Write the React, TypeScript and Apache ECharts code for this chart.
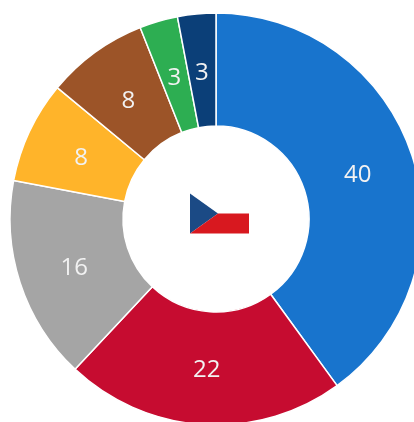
import React, { useEffect, useRef } from "react";
import * as echarts from "echarts";

const seats = [40, 22, 16, 8, 8, 3, 3];
const colors = ["#1874CD", "#C60C30", "#A5A5A5", "#FFB42A", "#9C5428", "#2DAE52", "#0B3F78"];

echarts.graphic.registerShape("flagBlue", echarts.graphic.extendPath("M0 0L28 20L0 40Z", {}));
echarts.graphic.registerShape("flagRed", echarts.graphic.extendPath("M0 40L28 20L59 20L59 40Z", {}));

export default function App() {
  const ref = useRef<HTMLDivElement>(null);
  useEffect(() => {
    const chart = echarts.init(ref.current!, null, { renderer: "svg" });
    const center = [216, 219];
    chart.setOption({
      animation: false,
      series: [
        {
          type: "pie",
          center,
          radius: [93, 206],
          startAngle: 90,
          data: seats.map((value, i) => ({ value, itemStyle: { color: colors[i] } })),
          itemStyle: { borderColor: "#ffffff", borderWidth: 1.5 },
          label: { show: false },
          labelLine: { show: false },
          silent: true,
        },
        {
          type: "pie",
          center,
          radius: [93, 199],
          startAngle: 90,
          data: seats.map((value) => ({ value })),
          itemStyle: { color: "transparent" },
          label: { show: true, position: "inside", formatter: "{c}", color: "#F2F2F2", fontSize: 24, fontFamily: "Open Sans" },
          labelLine: { show: false },
          silent: true,
        },
      ],
      graphic: [
        { type: "flagBlue", x: 190, y: 193.5, style: { fill: "#1B4A85" } },
        { type: "flagRed", x: 190, y: 193.5, style: { fill: "#D8181F" } },
      ],
    });
    return () => chart.dispose();
  }, []);
  return <div ref={ref} style={{ position: "fixed", left: 0, top: 0, width: 414, height: 422 }} />;
}
